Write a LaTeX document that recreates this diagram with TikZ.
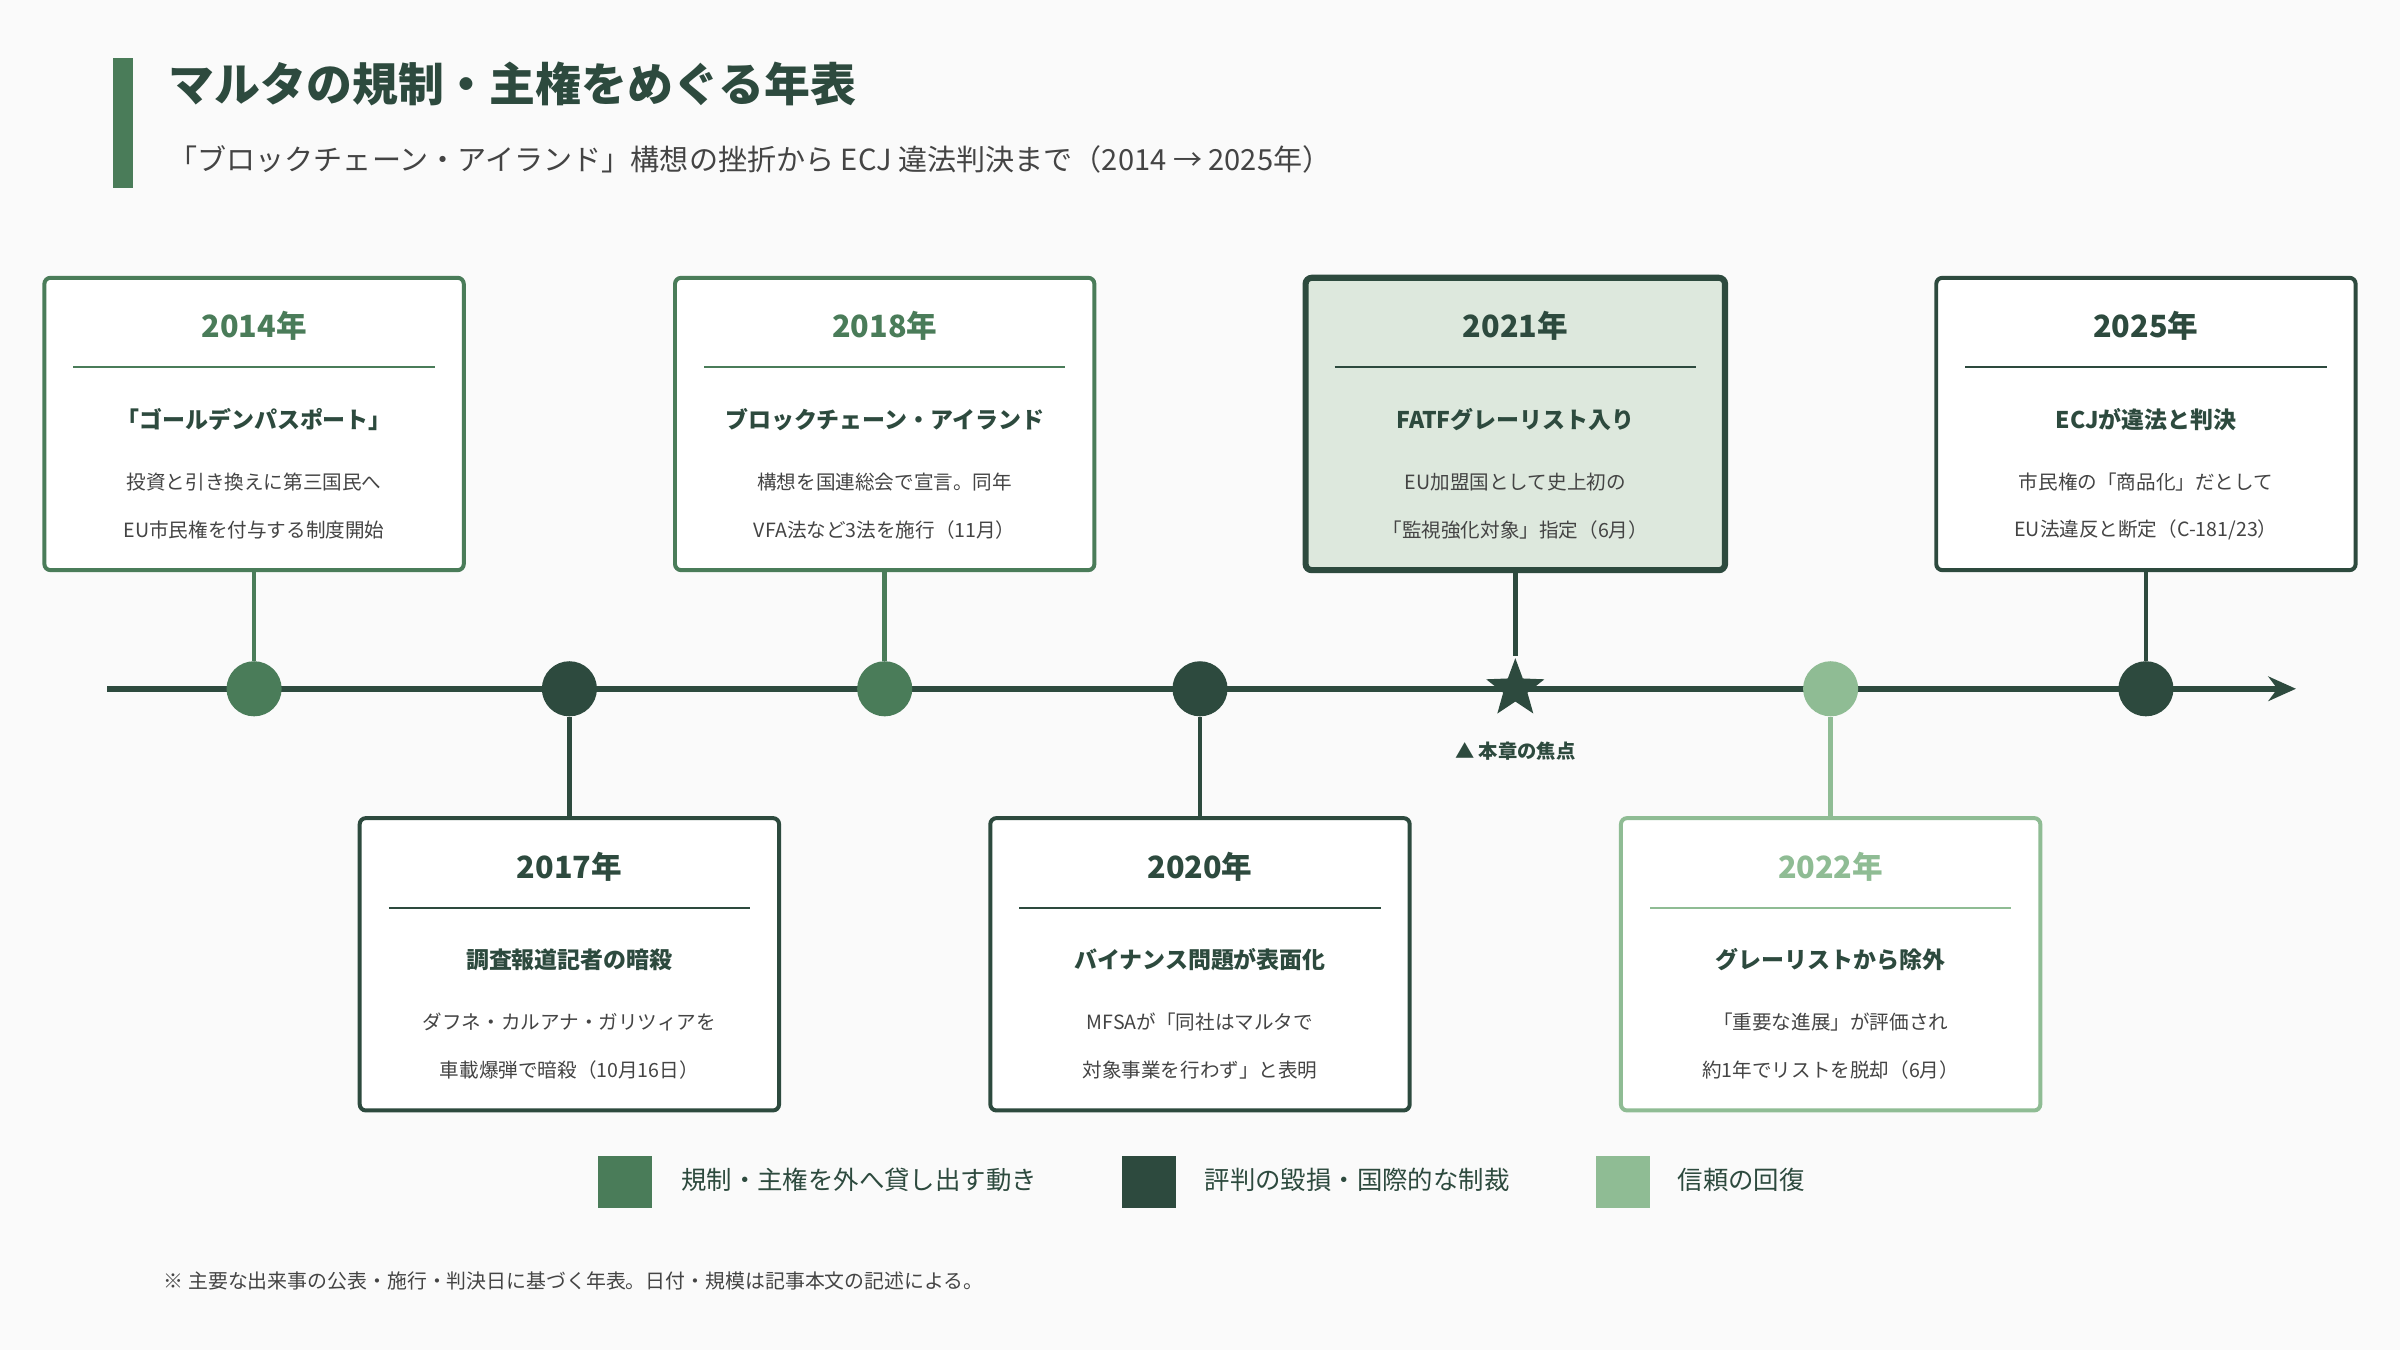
\documentclass[tikz,border=0pt]{standalone}
\usepackage{fontspec}
\setmainfont{Noto Sans CJK JP}
\usetikzlibrary{shapes.geometric,arrows.meta}
\definecolor{mg}{HTML}{4A7C59}
\definecolor{dg}{HTML}{2D4A3E}
\definecolor{lg}{HTML}{8FBC94}
\definecolor{bg}{HTML}{FAFAFA}
\definecolor{hl}{HTML}{DDE8DD}
\definecolor{tx}{HTML}{444444}
\begin{document}
\begin{tikzpicture}[x=0.5pt,y=-0.5pt,
 box/.style={draw=#1,line width=1.3pt,rounded corners=2pt,fill=white,minimum width=137pt,minimum height=95.5pt,inner sep=0pt},
 yr/.style={font=\fontsize{10}{12}\selectfont\bfseries,text=#1},
 ttl/.style={font=\fontsize{7.5}{9}\selectfont\bfseries,text=dg},
 dsc/.style={font=\fontsize{6.4}{8}\selectfont,text=tx},
 dot/.style={circle,fill=#1,minimum size=18pt,inner sep=0pt},
 rl/.style={draw=#1,line width=0.6pt},
 conn/.style={draw=#1,line width=1.5pt}]
\fill[bg] (0,0) rectangle (1568,882);
\useasboundingbox (0,0) rectangle (1568,882);
\fill[mg] (74,38) rectangle (87,123);
\node[anchor=west,font=\fontsize{15}{18}\selectfont\bfseries,text=dg] (title) at (103,55) {マルタの規制・主権をめぐる年表};
\node[anchor=west,font=\fontsize{9.5}{12}\selectfont,text=tx] (sub) at (103,104) {「ブロックチェーン・アイランド」構想の挫折から ECJ 違法判決まで（2014 → 2025年）};
\coordinate (tlA) at (70,450); \coordinate (tlB) at (1500,450);
\draw[dg,line width=1.8pt,-{Stealth[length=9pt,width=8pt]}] (tlA) -- (tlB);
\node[dot=mg] (dA) at (166,450) {};
\node[dot=dg] (dB) at (372,450) {};
\node[dot=mg] (dC) at (578,450) {};
\node[dot=dg] (dD) at (784,450) {};
\node[star,star points=5,star point ratio=2.4,fill=dg,minimum size=20pt,inner sep=0pt] (dE) at (990,450) {};
\node[dot=lg] (dF) at (1196,450) {};
\node[dot=dg] (dG) at (1402,450) {};
\node[font=\fontsize{6.3}{8}\selectfont\bfseries,text=dg] (focus) at (990,491) {▲ 本章の焦点};
% 2014
\node[box=mg] (bA) at (166,277) {};
\node[yr=mg] (bAy) at (166,213) {2014年};
\draw[rl=mg] (48,240) -- (284,240);
\node[ttl] (bAt) at (166,274) {「ゴールデンパスポート」};
\node[dsc] (bAa) at (166,315) {投資と引き換えに第三国民へ};
\node[dsc] (bAb) at (166,346) {EU市民権を付与する制度開始};
% 2018
\node[box=mg] (bC) at (578,277) {};
\node[yr=mg] (bCy) at (578,213) {2018年};
\draw[rl=mg] (460,240) -- (696,240);
\node[ttl] (bCt) at (578,274) {ブロックチェーン・アイランド};
\node[dsc] (bCa) at (578,315) {構想を国連総会で宣言。同年};
\node[dsc] (bCb) at (578,346) {VFA法など3法を施行（11月）};
% 2021
\node[box=dg,fill=hl,line width=2pt] (bE) at (990,277) {};
\node[yr=dg] (bEy) at (990,213) {2021年};
\draw[rl=dg] (872,240) -- (1108,240);
\node[ttl] (bEt) at (990,274) {FATFグレーリスト入り};
\node[dsc] (bEa) at (990,315) {EU加盟国として史上初の};
\node[dsc] (bEb) at (990,346) {「監視強化対象」指定（6月）};
% 2025
\node[box=dg] (bG) at (1402,277) {};
\node[yr=dg] (bGy) at (1402,213) {2025年};
\draw[rl=dg] (1284,240) -- (1520,240);
\node[ttl] (bGt) at (1402,274) {ECJが違法と判決};
\node[dsc] (bGa) at (1402,315) {市民権の「商品化」だとして};
\node[dsc] (bGb) at (1402,346) {EU法違反と断定（C-181/23）};
% 2017
\node[box=dg] (bB) at (372,630) {};
\node[yr=dg] (bBy) at (372,566) {2017年};
\draw[rl=dg] (254,593) -- (490,593);
\node[ttl] (bBt) at (372,627) {調査報道記者の暗殺};
\node[dsc] (bBa) at (372,668) {ダフネ・カルアナ・ガリツィアを};
\node[dsc] (bBb) at (372,699) {車載爆弾で暗殺（10月16日）};
% 2020
\node[box=dg] (bD) at (784,630) {};
\node[yr=dg] (bDy) at (784,566) {2020年};
\draw[rl=dg] (666,593) -- (902,593);
\node[ttl] (bDt) at (784,627) {バイナンス問題が表面化};
\node[dsc] (bDa) at (784,668) {MFSAが「同社はマルタで};
\node[dsc] (bDb) at (784,699) {対象事業を行わず」と表明};
% 2022
\node[box=lg] (bF) at (1196,630) {};
\node[yr=lg] (bFy) at (1196,566) {2022年};
\draw[rl=lg] (1078,593) -- (1314,593);
\node[ttl] (bFt) at (1196,627) {グレーリストから除外};
\node[dsc] (bFa) at (1196,668) {「重要な進展」が評価され};
\node[dsc] (bFb) at (1196,699) {約1年でリストを脱却（6月）};
% connectors
\draw[conn=mg] (bA) -- (dA);
\draw[conn=mg] (bC) -- (dC);
\draw[conn=dg] (bE) -- (dE);
\draw[conn=dg] (bG) -- (dG);
\draw[conn=dg] (dB) -- (bB);
\draw[conn=dg] (dD) -- (bD);
\draw[conn=lg] (dF) -- (bF);
% legend
\fill[mg] (391,755) rectangle (426,789);
\node[anchor=west,font=\fontsize{8.3}{10}\selectfont,text=dg] (l1) at (438,771) {規制・主権を外へ貸し出す動き};
\fill[dg] (733,755) rectangle (768,789);
\node[anchor=west,font=\fontsize{8.3}{10}\selectfont,text=dg] (l2) at (780,771) {評判の毀損・国際的な制裁};
\fill[lg] (1043,755) rectangle (1078,789);
\node[anchor=west,font=\fontsize{8.3}{10}\selectfont,text=dg] (l3) at (1089,771) {信頼の回復};
\node[anchor=west,font=\fontsize{6.5}{8}\selectfont,text=tx] (note) at (100,837) {※ 主要な出来事の公表・施行・判決日に基づく年表。日付・規模は記事本文の記述による。};
\end{tikzpicture}
\end{document}
